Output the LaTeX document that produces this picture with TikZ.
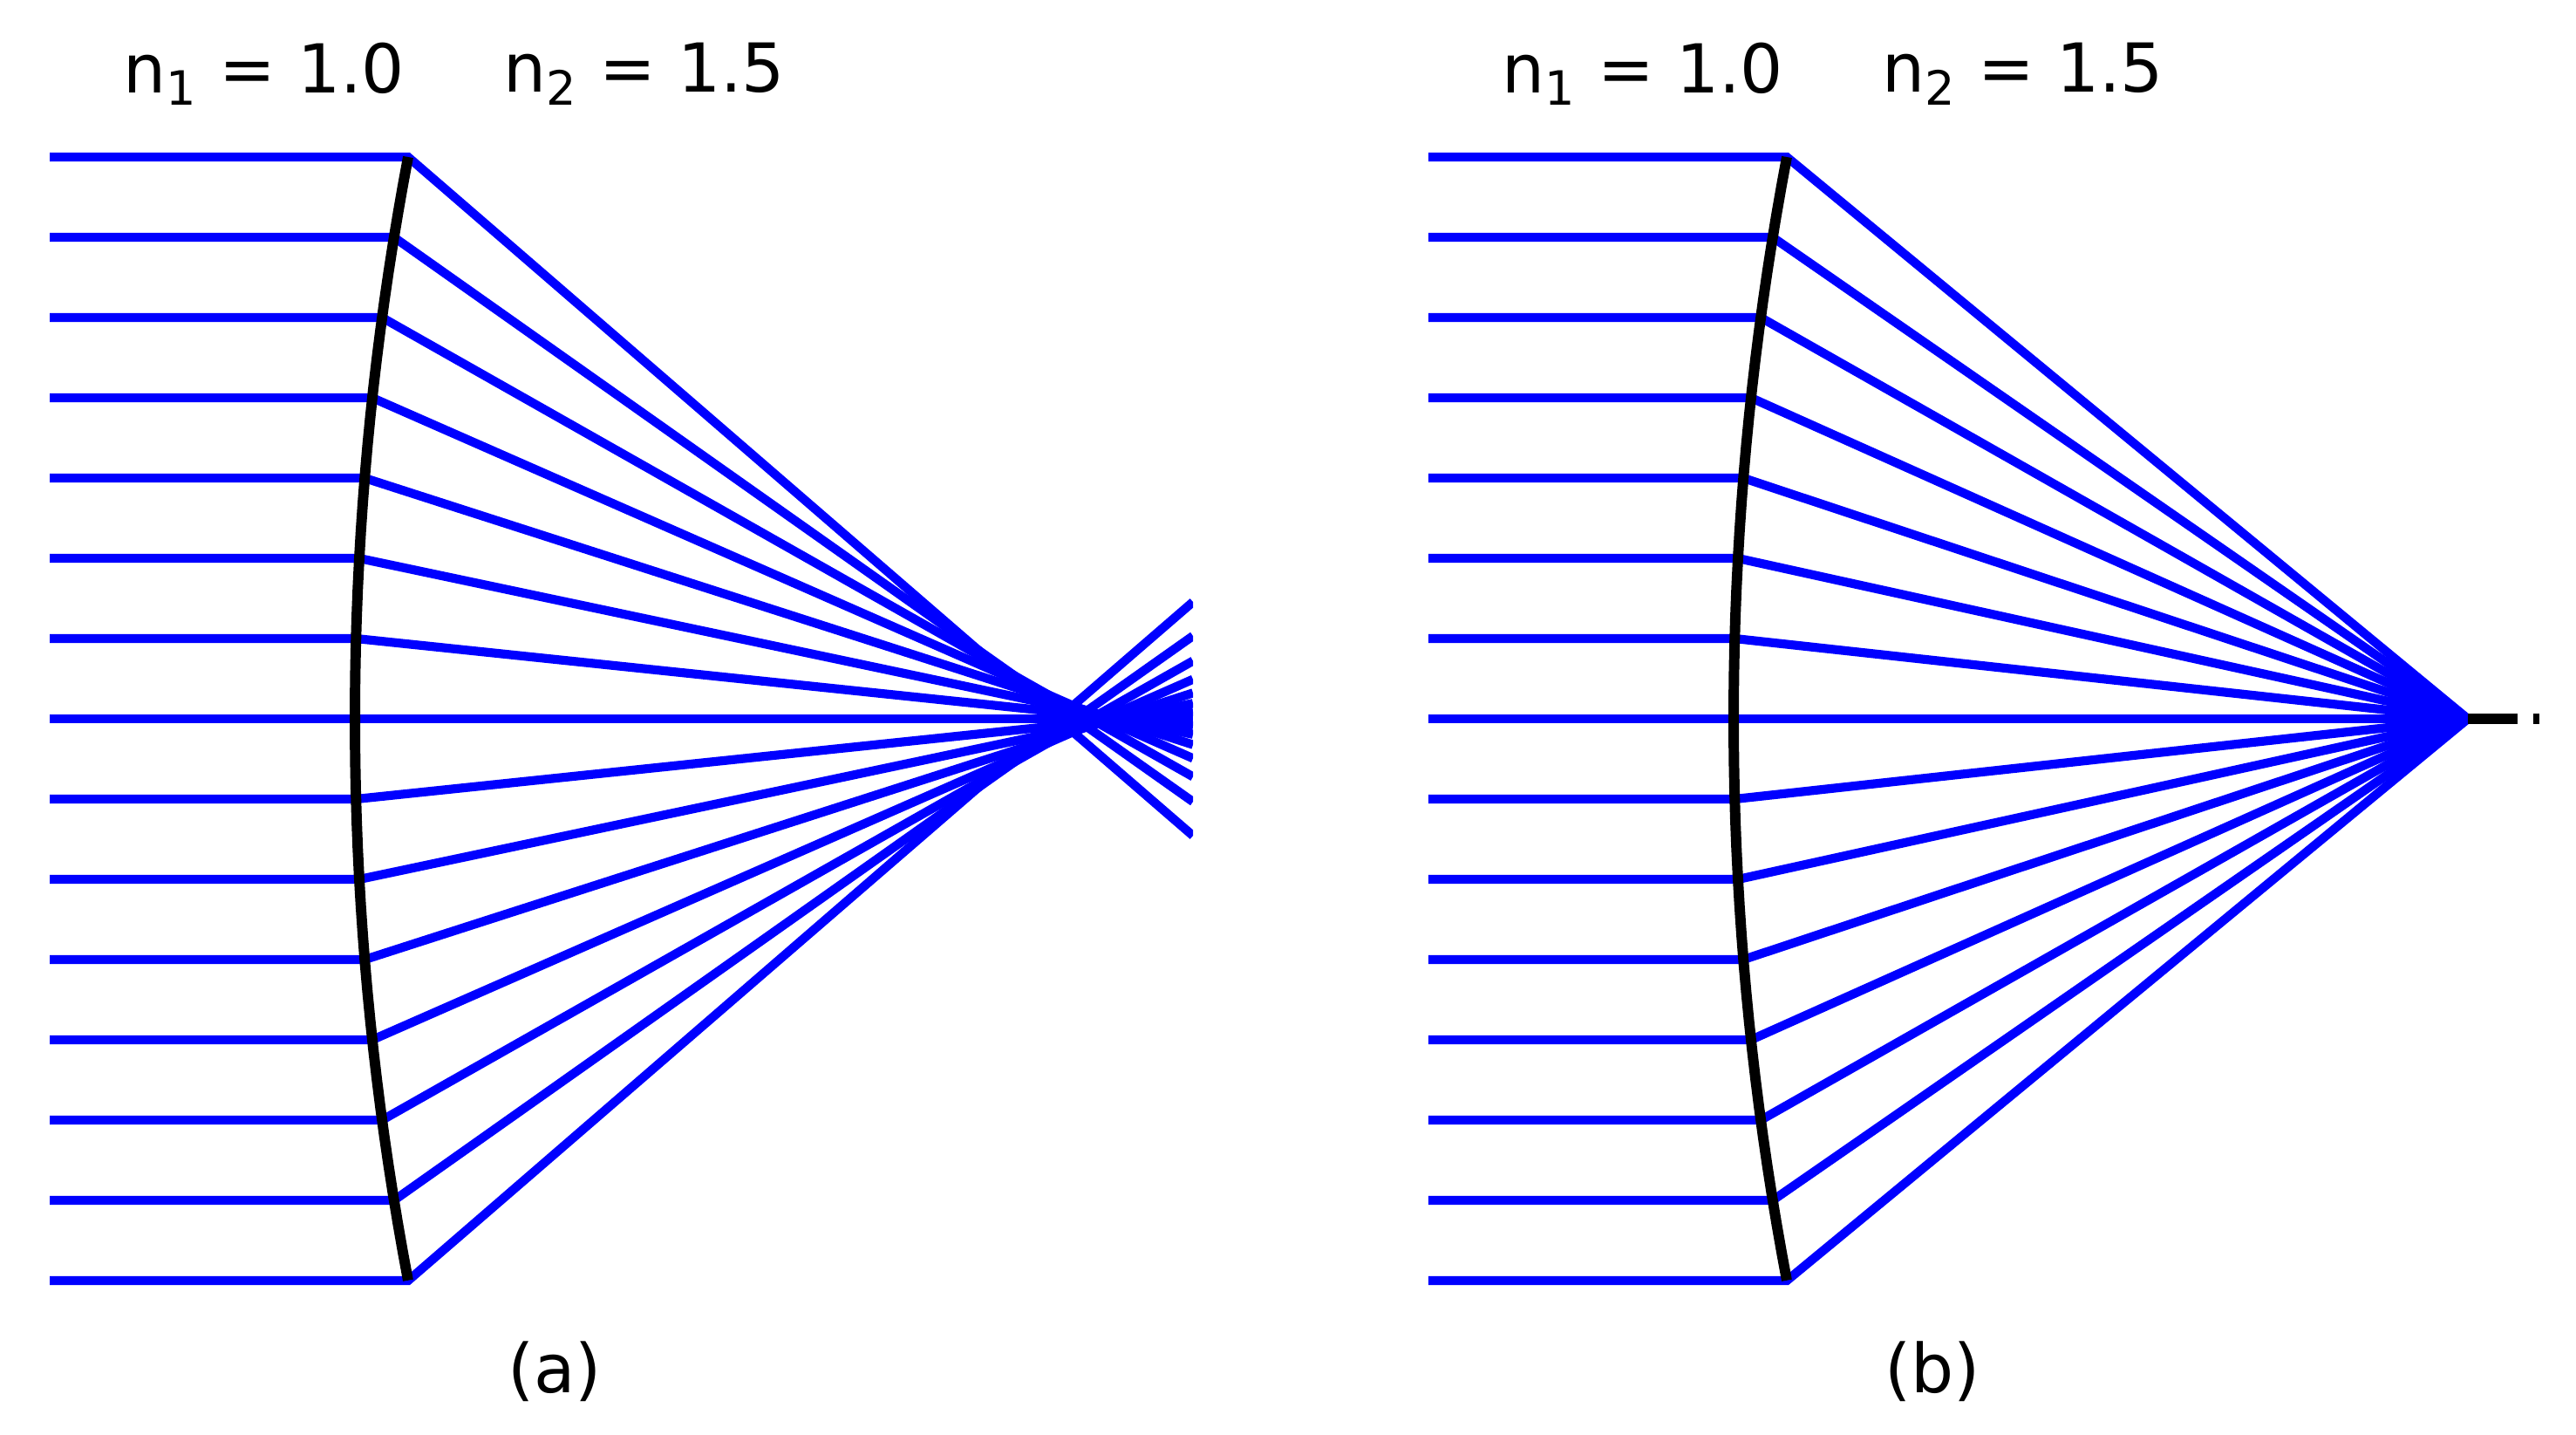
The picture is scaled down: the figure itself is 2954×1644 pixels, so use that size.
\documentclass[tikz,border=0pt]{standalone}
\usepackage{fontspec}
\setmainfont{DejaVu Sans}
\begin{document}
\begin{tikzpicture}[
    x=0.01cm, y=-0.01cm,
    ray/.style={draw=blue, line width=2.9pt},
    surface/.style={draw=black, line width=3.4pt},
    label/.style={font=\fontsize{22}{26}\selectfont, inner sep=0pt}
]
\useasboundingbox (0,0) rectangle (2954,1644);

% labels
\node (n1a) [label] at (303,85) {n\textsubscript{1} = 1.0};
\node (n2a) [label] at (739,85) {n\textsubscript{2} = 1.5};
\node (n1b) [label] at (1884,85) {n\textsubscript{1} = 1.0};
\node (n2b) [label] at (2320,85) {n\textsubscript{2} = 1.5};
\node (capa) [label] at (636,1572) {(a)};
\node (capb) [label] at (2216,1572) {(b)};

% (a) spherical surface, rays with aberration
\begin{scope}
\clip (0,0) rectangle (1368,1644);
\foreach \i in {0,...,14} {
    \pgfmathsetmacro{\t}{(\i-7)/7}
    \pgfmathsetmacro{\ya}{824+644*\t}
    \pgfmathsetmacro{\xs}{407+61*\t*\t}
    \pgfmathsetmacro{\xc}{1290-77*\t*\t}
    \pgfmathsetmacro{\r}{(1368-\xc)/(\xc-\xs)}
    \pgfmathsetmacro{\ye}{824-644*\t*\r}
    \draw [ray] (57,\ya) -- (\xs,\ya) -- (1368,\ye);
}
\end{scope}
\draw [surface] plot[domain=-1:1, samples=40] ({407+61*\x*\x},{824+644*\x});

% (b) surface with one focus
\coordinate (focus) at (2830,824);
\foreach \i in {0,...,14} {
    \pgfmathsetmacro{\t}{(\i-7)/7}
    \pgfmathsetmacro{\ya}{824+644*\t}
    \pgfmathsetmacro{\xs}{1988+61*\t*\t}
    \draw [ray] (1638,\ya) -- (\xs,\ya) -- (focus);
}
\draw [surface] plot[domain=-1:1, samples=40] ({1988+61*\x*\x},{824+644*\x});
\coordinate (axisend) at (2913,824);
\draw [draw=black, line width=3.4pt, dash pattern=on 16.2pt off 5.1pt on 2pt off 20pt] (focus) -- (axisend);
\end{tikzpicture}
\end{document}
